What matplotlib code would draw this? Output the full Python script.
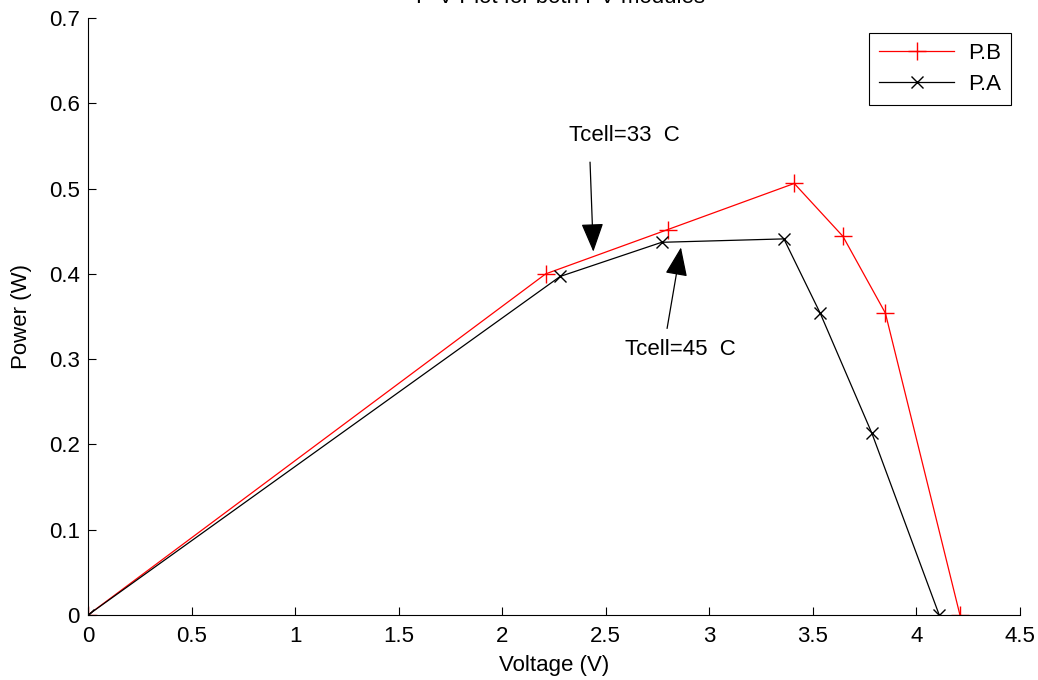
import matplotlib.pyplot as plt

plt.rcParams['font.family'] = ['Liberation Sans', 'DejaVu Sans']

# P.B module (Tcell = 33 C)
v_b = [0, 2.21, 2.80, 3.41, 3.645, 3.85, 4.21]
p_b = [0, 0.400, 0.452, 0.506, 0.444, 0.354, 0]

# P.A module (Tcell = 45 C)
v_a = [0, 2.28, 2.77, 3.36, 3.535, 3.785, 4.11]
p_a = [0, 0.397, 0.437, 0.441, 0.354, 0.213, 0]

xticks = [0, 0.5, 1, 1.5, 2, 2.5, 3, 3.5, 4, 4.5]
yticks = [0, 0.1, 0.2, 0.3, 0.4, 0.5, 0.6, 0.7]

fig = plt.figure(figsize=(10.38, 6.8), dpi=100)
ax = fig.add_axes([88 / 1038, 65 / 680, 932 / 1038, 597 / 680])

ax.plot(v_b, p_b, color='red', marker='+', markersize=13, linewidth=0.9, label='P.B')
ax.plot(v_a, p_a, color='black', marker='x', markersize=8, linewidth=0.9, label='P.A')

ax.set_xlim(0, 4.5)
ax.set_ylim(0, 0.7)
ax.set_xticks(xticks)
ax.set_yticks(yticks)
ax.set_xticklabels([str(t) for t in xticks])
ax.set_yticklabels([str(t) for t in yticks])
ax.tick_params(direction='in', length=6, labelsize=16, width=0.8)
ax.tick_params(axis='x', pad=8)
ax.tick_params(axis='y', pad=6)
ax.spines['top'].set_visible(False)
ax.spines['right'].set_visible(False)
for s in ['left', 'bottom']:
    ax.spines[s].set_linewidth(0.8)

ax.set_xlabel('Voltage (V)', fontsize=16, labelpad=6)
ax.set_ylabel('Power (W)', fontsize=16, labelpad=12)
# title sits mostly above the top edge, as in the original export
fig.text(561 / 1038, 1.004, 'P-V Plot for both PV modules', ha='center', va='center', fontsize=16)

arrow = dict(arrowstyle='-|>,head_length=0.9,head_width=0.35', color='black',
             lw=0.9, shrinkA=0, shrinkB=0, mutation_scale=20)
ax.text(2.59, 0.562, 'Tcell=33  C', ha='center', va='center', fontsize=16)
ax.annotate('', xy=(2.44, 0.426), xytext=(2.424, 0.531), arrowprops=arrow)
ax.text(2.86, 0.311, 'Tcell=45  C', ha='center', va='center', fontsize=16)
ax.annotate('', xy=(2.863, 0.431), xytext=(2.796, 0.336), arrowprops=arrow)

leg = ax.legend(loc='upper right', bbox_to_anchor=(0.99, 0.975), fontsize=16, fancybox=False,
                edgecolor='black', framealpha=1, handlelength=3.4, borderpad=0.45,
                labelspacing=0.45, handletextpad=0.6, borderaxespad=0)
leg.get_frame().set_linewidth(0.8)

fig.savefig('out.png', dpi=100)
